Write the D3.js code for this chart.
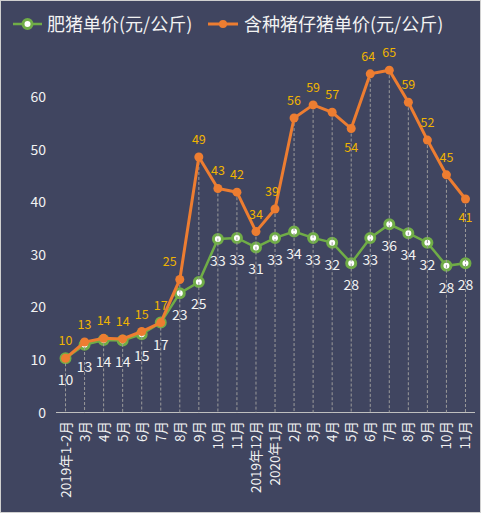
<!DOCTYPE html>
<html>
<head>
<meta charset="utf-8">
<script src="https://cdn.jsdelivr.net/npm/d3@7"></script>
<style>
  body { margin: 0; background: #fff; }
  text { font-family: "Microsoft YaHei", "Noto Sans CJK SC", "DejaVu Sans", sans-serif; }
</style>
</head>
<body>
<svg width="481" height="513"></svg>
<script>
const months = ["2019年1-2月","3月","4月","5月","6月","7月","8月","9月","10月","11月",
  "2019年12月","2020年1月","2月","3月","4月","5月","6月","7月","8月","9月","10月","11月"]
// 肥猪单价
const fatPig = [10.3,12.9,13.8,13.7,14.9,17.1,22.7,24.8,33.0,33.2,31.4,33.2,34.4,33.2,32.3,28.4,33.2,35.8,34.1,32.3,27.9,28.4]
// 含种猪仔猪单价
const allPig = [10.3,13.4,14.1,14.0,15.4,17.1,25.3,48.6,42.6,41.9,34.4,38.7,56.0,58.5,57.1,54.0,64.4,65.1,59.0,51.8,45.2,40.6]
const yTicks = [0,10,20,30,40,50,60]
const seriesNames = ["肥猪单价(元/公斤)", "含种猪仔猪单价(元/公斤)"]

const svg = d3.select("svg")
const green = "#70ad47", orange = "#ed7d31", gold = "#f0b400", txt = "#f2f2f2"

svg.append("rect")
  .attr("x", 0.5).attr("y", 0.5)
  .attr("width", 480).attr("height", 512)
  .attr("fill", "#404560")
  .attr("stroke", "#d0d0d0")

const x = d3.scalePoint()
  .domain(d3.range(months.length))
  .range([56, 475])
  .padding(0.5)

const y = d3.scaleLinear()
  .domain([0, 60])
  .range([412.5, 97])

// y labels
svg.selectAll(".ylab")
  .data(yTicks)
  .enter()
  .append("text")
  .attr("x", 46)
  .attr("y", d => y(d) + 5)
  .attr("text-anchor", "end")
  .attr("font-size", 14)
  .attr("fill", txt)
  .text(d => d)

// x axis line
svg.append("line")
  .attr("x1", 56).attr("x2", 475)
  .attr("y1", y(0)).attr("y2", y(0))
  .attr("stroke", "#bfbfbf")
  .attr("stroke-width", 1.2)

// x labels
svg.selectAll(".xlab")
  .data(months)
  .enter()
  .append("text")
  .attr("transform", (d, i) => `translate(${x(i) + 5},421) rotate(-90)`)
  .attr("text-anchor", "end")
  .attr("font-size", 13.5)
  .attr("fill", txt)
  .text(d => d)

const line = d3.line()
  .x((d, i) => x(i))
  .y(d => y(d))

// green series
svg.append("path")
  .attr("d", line(fatPig))
  .attr("fill", "none")
  .attr("stroke", green)
  .attr("stroke-width", 2.5)

svg.selectAll(".gdot")
  .data(fatPig)
  .enter()
  .append("circle")
  .attr("cx", (d, i) => x(i))
  .attr("cy", d => y(d))
  .attr("r", 4.5)
  .attr("fill", "#fff")
  .attr("stroke", green)
  .attr("stroke-width", 3)

// drop lines
svg.selectAll(".drop")
  .data(allPig)
  .enter()
  .append("line")
  .attr("x1", (d, i) => x(i)).attr("x2", (d, i) => x(i))
  .attr("y1", d => y(d)).attr("y2", y(0))
  .attr("stroke", "#9a9a9a")
  .attr("stroke-width", 1)
  .attr("stroke-dasharray", "3,2")

// orange series
svg.append("path")
  .attr("d", line(allPig))
  .attr("fill", "none")
  .attr("stroke", orange)
  .attr("stroke-width", 3)

svg.selectAll(".odot")
  .data(allPig)
  .enter()
  .append("circle")
  .attr("cx", (d, i) => x(i))
  .attr("cy", d => y(d))
  .attr("r", 4.5)
  .attr("fill", orange)

// labels
svg.selectAll(".glab")
  .data(fatPig)
  .enter()
  .append("text")
  .attr("x", (d, i) => x(i))
  .attr("y", d => y(d) + 27)
  .attr("text-anchor", "middle")
  .attr("font-size", 14)
  .attr("fill", txt)
  .text(d => Math.round(d))

// a few orange labels sit below the point or are nudged left
const below = [15, 21]
const nudgeLeft = { 6: -10, 11: -3, 16: -2 }
svg.selectAll(".olab")
  .data(allPig)
  .enter()
  .append("text")
  .attr("x", (d, i) => x(i) + (nudgeLeft[i] || 0))
  .attr("y", (d, i) => below.includes(i) ? y(d) + 23 : y(d) - 13)
  .attr("text-anchor", "middle")
  .attr("font-size", 12.5)
  .attr("fill", gold)
  .text(d => Math.round(d))

// legend
const lg = svg.append("g")
lg.append("line").attr("x1", 13).attr("x2", 42).attr("y1", 24).attr("y2", 24)
  .attr("stroke", green).attr("stroke-width", 2.5)
lg.append("circle").attr("cx", 27.5).attr("cy", 24).attr("r", 4.5)
  .attr("fill", "#fff").attr("stroke", green).attr("stroke-width", 3)
lg.append("text").attr("x", 47).attr("y", 31)
  .attr("font-size", 18).attr("fill", txt).text(seriesNames[0])

lg.append("line").attr("x1", 208).attr("x2", 238).attr("y1", 24).attr("y2", 24)
  .attr("stroke", orange).attr("stroke-width", 3)
lg.append("circle").attr("cx", 223).attr("cy", 24).attr("r", 4)
  .attr("fill", orange)
lg.append("text").attr("x", 244).attr("y", 31)
  .attr("font-size", 18).attr("fill", txt).text(seriesNames[1])
</script>
</body>
</html>
